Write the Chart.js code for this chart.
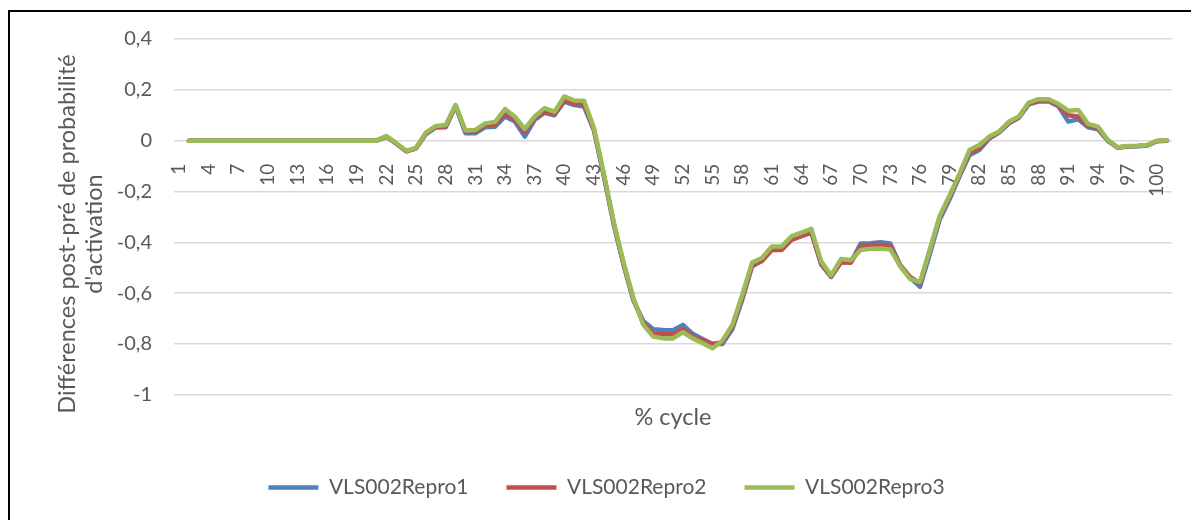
<!DOCTYPE html>
<html>
<head>
<meta charset="utf-8">
<script src="https://cdn.jsdelivr.net/npm/chart.js@4.4.1/dist/chart.umd.min.js"></script>
<style>
    html, body { margin: 0; padding: 0; background: #fff; overflow: hidden; }
    #wrap { position: relative; width: 1191px; height: 520px; }
    #frame {
        position: absolute; left: 8px; top: 10px; width: 1200px; height: 600px;
        border: 2px solid #000; pointer-events: none;
    }
</style>
</head>
<body>
<div id="wrap">
    <canvas id="ChartCycle" width="1191" height="520"></canvas>
    <div id="frame"></div>
</div>
<script>
// % du cycle (1..101)
var cycle = [
    1, 2, 3, 4, 5, 6, 7, 8, 9, 10, 11, 12, 13, 14, 15, 16, 17, 18, 19, 20,
    21, 22, 23, 24, 25, 26, 27, 28, 29, 30, 31, 32, 33, 34, 35, 36, 37, 38, 39, 40,
    41, 42, 43, 44, 45, 46, 47, 48, 49, 50, 51, 52, 53, 54, 55, 56, 57, 58, 59, 60,
    61, 62, 63, 64, 65, 66, 67, 68, 69, 70, 71, 72, 73, 74, 75, 76, 77, 78, 79, 80,
    81, 82, 83, 84, 85, 86, 87, 88, 89, 90, 91, 92, 93, 94, 95, 96, 97, 98, 99, 100, 101
];

var repro1 = [
    null, 0, 0, 0, 0, 0, 0, 0, 0, 0, 0, 0, 0, 0, 0, 0, 0, 0, 0, 0,
    0, 0.016, -0.012, -0.042, -0.03, 0.026, 0.052, 0.053, 0.136, 0.029,
    0.029, 0.053, 0.055, 0.095, 0.075, 0.016, 0.082, 0.11, 0.1, 0.154,
    0.14, 0.134, 0.04, -0.14, -0.33, -0.49, -0.63, -0.71, -0.742, -0.745,
    -0.746, -0.725, -0.76, -0.78, -0.8, -0.8, -0.742, -0.627, -0.495, -0.472,
    -0.428, -0.428, -0.388, -0.374, -0.36, -0.488, -0.536, -0.478, -0.478, -0.405,
    -0.404, -0.4, -0.405, -0.492, -0.54, -0.575, -0.445, -0.31, -0.23, -0.14,
    -0.057, -0.037, 0.008, 0.032, 0.068, 0.09, 0.143, 0.154, 0.155, 0.135,
    0.075, 0.084, 0.053, 0.045, -0.001, -0.028, -0.023, -0.022, -0.019, -0.002, 0
];

var repro2 = [
    null, 0, 0, 0, 0, 0, 0, 0, 0, 0, 0, 0, 0, 0, 0, 0, 0, 0, 0, 0,
    0, 0.016, -0.012, -0.042, -0.03, 0.028, 0.054, 0.056, 0.138, 0.034,
    0.036, 0.06, 0.064, 0.108, 0.084, 0.034, 0.088, 0.114, 0.104, 0.158,
    0.146, 0.142, 0.044, -0.135, -0.325, -0.485, -0.625, -0.72, -0.758, -0.762,
    -0.762, -0.742, -0.77, -0.785, -0.8, -0.793, -0.733, -0.62, -0.49, -0.474,
    -0.43, -0.43, -0.39, -0.376, -0.362, -0.485, -0.535, -0.478, -0.48, -0.416,
    -0.41, -0.41, -0.415, -0.49, -0.536, -0.562, -0.43, -0.3, -0.22, -0.135,
    -0.048, -0.03, 0.01, 0.034, 0.07, 0.092, 0.145, 0.158, 0.158, 0.14,
    0.1, 0.095, 0.06, 0.05, 0.001, -0.027, -0.022, -0.021, -0.018, -0.001, 0.001
];

var repro3 = [
    null, 0, 0, 0, 0, 0, 0, 0, 0, 0, 0, 0, 0, 0, 0, 0, 0, 0, 0, 0,
    0, 0.018, -0.01, -0.04, -0.028, 0.032, 0.058, 0.062, 0.14, 0.04,
    0.042, 0.068, 0.074, 0.124, 0.094, 0.046, 0.095, 0.128, 0.114, 0.174,
    0.158, 0.157, 0.05, -0.13, -0.32, -0.48, -0.62, -0.725, -0.771, -0.778,
    -0.778, -0.754, -0.778, -0.797, -0.817, -0.787, -0.725, -0.608, -0.48, -0.462,
    -0.416, -0.416, -0.376, -0.362, -0.347, -0.475, -0.53, -0.466, -0.47, -0.43,
    -0.425, -0.424, -0.428, -0.495, -0.545, -0.556, -0.43, -0.295, -0.215, -0.13,
    -0.037, -0.017, 0.016, 0.036, 0.075, 0.095, 0.15, 0.163, 0.163, 0.145,
    0.118, 0.121, 0.066, 0.055, 0.003, -0.026, -0.021, -0.02, -0.017, 0, 0.002
];

var seriesNames = ['VLS002Repro1', 'VLS002Repro2', 'VLS002Repro3'];
var yTitleLines = ['Différences post-pré de probabilité', "d'activation"];
var xTitle = '% cycle';

var textColor = '#595959';
var font = 'Lato';

// titre vertical sur deux lignes, centré un peu plus bas que la zone de tracé
const yTitlePlugin = {
    id: 'yTitle',
    afterDraw(chart) {
        const ctx = chart.ctx;
        ctx.save();
        ctx.translate(0, 234);
        ctx.rotate(-Math.PI / 2);
        ctx.font = '23.5px ' + font;
        ctx.fillStyle = textColor;
        ctx.textAlign = 'center';
        ctx.textBaseline = 'alphabetic';
        ctx.fillText(yTitleLines[0], 0, 75);
        ctx.fillText(yTitleLines[1], 0, 102);
        ctx.restore();
    }
};

function makeDataset(label, data, color, order) {
    return {
        label: label,
        data: data,
        borderColor: color,
        backgroundColor: color,
        borderWidth: 4.5,
        borderCapStyle: 'round',
        borderJoinStyle: 'round',
        pointRadius: 0,
        pointHoverRadius: 0,
        tension: 0,
        order: order
    };
}

const chartCycle = document.getElementById('ChartCycle');
new Chart(chartCycle, {
    type: 'line',
    data: {
        labels: cycle,
        datasets: [
            makeDataset(seriesNames[0], repro1, '#4F81BD', 3),
            makeDataset(seriesNames[1], repro2, '#C0504D', 2),
            makeDataset(seriesNames[2], repro3, '#9BBB59', 1)
        ]
    },
    options: {
        responsive: false,
        animation: false,
        events: [],
        layout: {
            padding: { left: 41, right: 19, top: 39, bottom: 12 }
        },
        scales: {
            x: {
                type: 'category',
                position: { y: 0 },
                offset: true,
                // l'axe est posé sur y = 0 : pas de marge latérale à réserver
                afterFit: function (scale) {
                    scale.paddingLeft = 0;
                    scale.paddingRight = 0;
                },
                grid: { display: false },
                border: { display: false },
                ticks: {
                    autoSkip: false,
                    minRotation: 90,
                    maxRotation: 90,
                    padding: 15,
                    color: textColor,
                    font: { family: font, size: 19 },
                    callback: function (value, index) {
                        return index % 3 === 0 ? cycle[index] : '';
                    }
                }
            },
            y: {
                min: -1,
                max: 0.4,
                afterFit: function (scale) { scale.width = 133; },
                grid: { color: '#D9D9D9', lineWidth: 1.5, drawTicks: false },
                border: { display: false },
                ticks: {
                    stepSize: 0.2,
                    padding: 22,
                    color: textColor,
                    font: { family: font, size: 20 },
                    callback: function (value) {
                        return Number(value.toFixed(1)).toString().replace('.', ',');
                    }
                }
            }
        },
        plugins: {
            legend: {
                position: 'bottom',
                labels: {
                    usePointStyle: true,
                    pointStyle: 'line',
                    pointStyleWidth: 50,
                    padding: 38,
                    color: textColor,
                    font: { family: font, size: 21 },
                    sort: function (a, b) { return a.datasetIndex - b.datasetIndex; }
                }
            },
            title: {
                display: true,
                position: 'bottom',
                fullSize: false,
                text: xTitle,
                weight: 500,
                padding: { top: 9, bottom: 7 },
                color: textColor,
                font: { family: font, size: 23.5, weight: 'normal' }
            },
            tooltip: { enabled: false }
        }
    },
    plugins: [yTitlePlugin]
});
</script>
</body>
</html>
